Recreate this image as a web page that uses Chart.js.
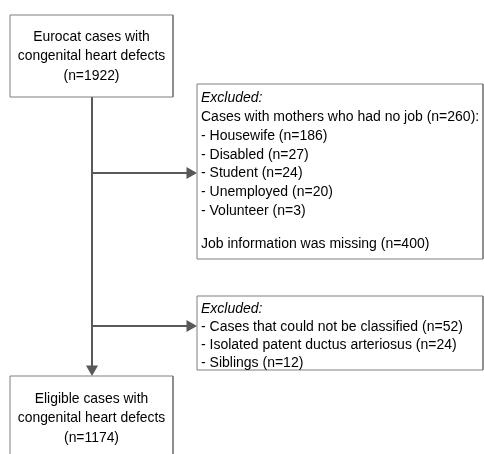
<!DOCTYPE html>
<html>
<head>
<meta charset="utf-8">
<script src="https://cdn.jsdelivr.net/npm/chart.js@4"></script>
<style>
  html, body { margin: 0; padding: 0; background: #fff; }
  #wrap { width: 484px; height: 454px; }
</style>
</head>
<body>
<div id="wrap"><canvas id="flow"></canvas></div>
<script>
// flowchart content
const startLines = ['Eurocat cases with', 'congenital heart defects', '(n=1922)'];
const noJobLabels = ['Housewife', 'Disabled', 'Student', 'Unemployed', 'Volunteer'];
const noJobCounts = [186, 27, 24, 20, 3];
const noJobTotal = 260;
const missingJob = 400;
const otherLabels = ['Cases that could not be classified', 'Isolated patent ductus arteriosus', 'Siblings'];
const otherCounts = [52, 24, 12];
const endLines = ['Eligible cases with', 'congenital heart defects', '(n=1174)'];

// layout in page units (x 0..484, y 0..454 top-down)
const boxes = [
    { x0: 10, y0: 15, x1: 173, y1: 97 },
    { x0: 197, y0: 84, x1: 483, y1: 259 },
    { x0: 197, y0: 296, x1: 483, y1: 370 },
    { x0: 10, y0: 376, x1: 173, y1: 470 }
];
const spineX = 92;
const branchY = [173, 326];
const arrowSize = 7;

const lineColor = '#595959';
const boxColor = '#7f7f7f';
const font = '"Liberation Sans", Arial, sans-serif';

function boxPath(b) {
    return [
        { x: b.x0, y: b.y0 }, { x: b.x1, y: b.y0 },
        { x: b.x1, y: b.y1 }, { x: b.x0, y: b.y1 }, { x: b.x0, y: b.y0 }
    ];
}

let datasets = boxes.map(b => ({
    data: boxPath(b),
    showLine: true,
    borderColor: boxColor,
    borderWidth: 1,
    backgroundColor: '#fff',
    fill: true,
    pointRadius: 0,
    tension: 0
}));

function arrow(from, to, rot) {
    return {
        data: [from, to],
        showLine: true,
        borderColor: lineColor,
        borderWidth: 2,
        pointRadius: [0, arrowSize],
        pointStyle: 'triangle',
        rotation: rot,
        pointBackgroundColor: lineColor,
        pointBorderColor: lineColor,
        pointBorderWidth: 0
    };
}

// spine with down arrow, then the two side branches
datasets.push(arrow({ x: spineX, y: boxes[0].y1 }, { x: spineX, y: boxes[3].y0 - arrowSize }, 180));
branchY.forEach(y => {
    datasets.push(arrow({ x: spineX, y: y }, { x: boxes[1].x0 - arrowSize, y: y }, 90));
});

const textPlugin = {
    id: 'boxText',
    afterDatasetsDraw(chart) {
        const ctx = chart.ctx;
        const sx = chart.scales.x, sy = chart.scales.y;
        const px = v => sx.getPixelForValue(v);
        const py = v => sy.getPixelForValue(v);
        ctx.save();
        ctx.fillStyle = '#000';
        ctx.textBaseline = 'middle';

        // centred boxes
        ctx.textAlign = 'center';
        ctx.font = '13.9px ' + font;
        const cx = (boxes[0].x0 + boxes[0].x1) / 2;
        startLines.forEach((t, i) => ctx.fillText(t, px(cx), py(37 + i * 19.5)));
        endLines.forEach((t, i) => ctx.fillText(t, px(cx), py(399 + i * 19.5)));

        // exclusion box 1
        ctx.textAlign = 'left';
        const tx = boxes[1].x0 + 4;
        ctx.font = 'italic 14px ' + font;
        ctx.fillText('Excluded:', px(tx), py(98));
        ctx.font = '14px ' + font;
        ctx.fillText('Cases with mothers who had no job (n=' + noJobTotal + '):', px(tx), py(117));
        noJobLabels.forEach((l, i) => {
            ctx.fillText('- ' + l + ' (n=' + noJobCounts[i] + ')', px(tx), py(136 + i * 18.8));
        });
        ctx.fillText('Job information was missing (n=' + missingJob + ')', px(tx), py(244));

        // exclusion box 2
        ctx.font = 'italic 14px ' + font;
        ctx.fillText('Excluded:', px(tx), py(309));
        ctx.font = '14px ' + font;
        otherLabels.forEach((l, i) => {
            ctx.fillText('- ' + l + ' (n=' + otherCounts[i] + ')', px(tx), py(327 + i * 18));
        });
        ctx.restore();
    }
};

new Chart(document.getElementById('flow'), {
    type: 'scatter',
    data: { datasets: datasets },
    options: {
        responsive: true,
        maintainAspectRatio: false,
        animation: false,
        layout: { padding: 0, autoPadding: false },
        plugins: { legend: { display: false }, tooltip: { enabled: false } },
        scales: {
            x: { type: 'linear', min: 0, max: 484, display: false },
            y: { type: 'linear', min: 0, max: 454, reverse: true, display: false }
        }
    },
    plugins: [textPlugin]
});
</script>
</body>
</html>
